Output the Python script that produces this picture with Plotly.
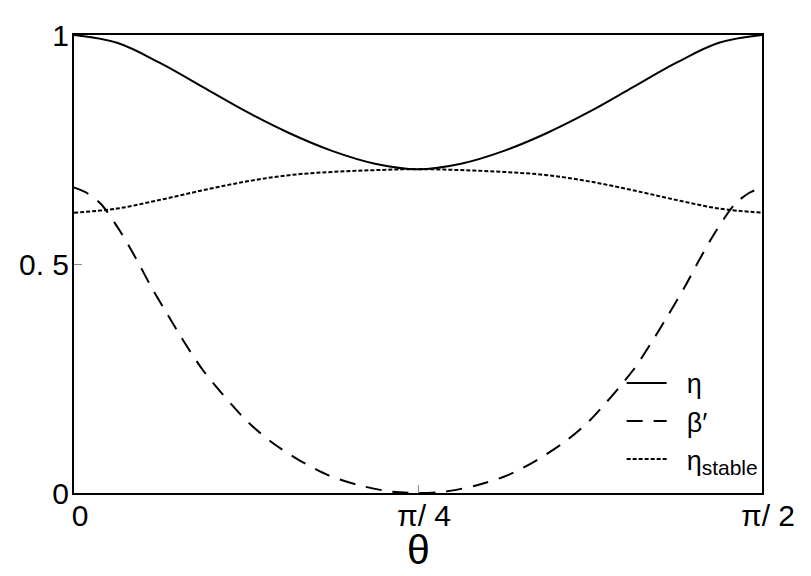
import plotly.graph_objects as go

# theta grid (radians) for eta and eta_stable
theta = [0.0, 0.0982, 0.1963, 0.2945, 0.3927, 0.4909, 0.5890, 0.6872, 0.7854,
         0.8836, 0.9817, 1.0799, 1.1781, 1.2763, 1.3744, 1.4726, 1.5708]
eta = [1.000, 0.983, 0.939, 0.886, 0.833, 0.786, 0.747, 0.719, 0.707,
       0.719, 0.747, 0.786, 0.833, 0.886, 0.939, 0.983, 1.000]
eta_stable = [0.612, 0.621, 0.640, 0.661, 0.680, 0.694, 0.701, 0.705, 0.707,
              0.705, 0.701, 0.694, 0.680, 0.661, 0.640, 0.621, 0.612]

# theta grid (radians) for beta'
theta_b = [0.0, 0.0297, 0.0616, 0.1050, 0.1427, 0.1770, 0.2146, 0.2443, 0.2945,
           0.3927, 0.4498, 0.5137, 0.5799, 0.6507, 0.7237, 0.7854,
           0.8471, 0.9201, 0.9909, 1.0571, 1.1210, 1.1781, 1.2763, 1.3265,
           1.3562, 1.3938, 1.4281, 1.4658, 1.5092, 1.5411, 1.5708]
beta_p = [0.667, 0.655, 0.631, 0.572, 0.510, 0.449, 0.388, 0.341, 0.268,
          0.159, 0.112, 0.072, 0.039, 0.017, 0.003, 0.000,
          0.003, 0.017, 0.039, 0.072, 0.112, 0.159, 0.268, 0.341,
          0.388, 0.449, 0.510, 0.572, 0.631, 0.655, 0.667]

x_tickvals = [0.0, 0.7854, 1.5708]
x_ticktext = ["0", "π/ 4", "π/ 2"]
y_tickvals = [0.0, 0.5, 1.0]
y_ticktext = ["0", "0. 5", "1"]
x_title = "θ"

gap = "\u00a0\u00a0"
names = [gap + "η", gap + "β′",
         gap + "η<sub><span style=\"font-size:21px\">stable</span></sub>"]

fig = go.Figure()
fig.add_trace(go.Scatter(x=theta, y=eta, mode="lines", name=names[0],
                         line=dict(color="black", width=2, shape="spline", smoothing=1.0)))
fig.add_trace(go.Scatter(x=theta_b, y=beta_p, mode="lines", name=names[1],
                         line=dict(color="black", width=2, dash="16px,11px", shape="spline", smoothing=0.8)))
fig.add_trace(go.Scatter(x=theta, y=eta_stable, mode="lines", name=names[2],
                         line=dict(color="black", width=2, dash="4px,2px", shape="spline", smoothing=1.0)))

axis_common = dict(showgrid=False, zeroline=False, showline=True, linecolor="black",
                   linewidth=2, mirror=True, ticks="inside", ticklen=8, tickwidth=1,
                   tickcolor="#888888", tickfont=dict(size=30, color="black"),
                   automargin=False)

fig.update_layout(
    width=803, height=568,
    margin=dict(l=66, r=49, t=27, b=83),
    paper_bgcolor="white", plot_bgcolor="white",
    font=dict(family="Liberation Sans, Arial, sans-serif", color="black"),
    xaxis=dict(range=[0, 1.5708], tickvals=x_tickvals, ticktext=x_ticktext,
               ticklabelshift=6, ticklabelstandoff=-5, **axis_common),
    yaxis=dict(range=[0, 1], tickvals=y_tickvals, ticktext=y_ticktext,
               ticklabelstandoff=-3, **axis_common),
    legend=dict(x=0.796, xanchor="left", y=0.02, yanchor="bottom",
                bgcolor="rgba(0,0,0,0)", borderwidth=0,
                font=dict(size=27, color="black"), itemwidth=40),
    showlegend=True,
    annotations=[dict(text=x_title, xref="paper", yref="paper", x=0.5, y=-0.124,
                      xanchor="center", yanchor="middle", showarrow=False,
                      font=dict(size=41, color="black"))],
)

fig.write_html("out.html")
